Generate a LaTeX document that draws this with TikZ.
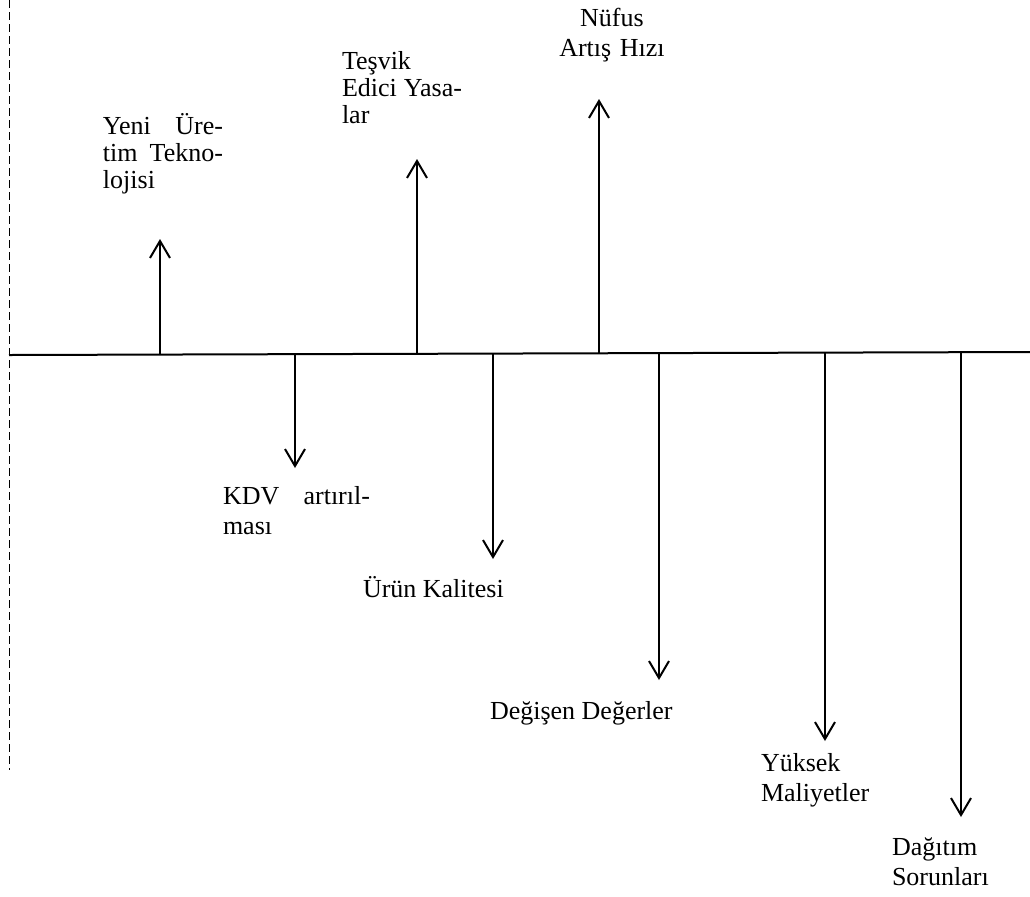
\documentclass[tikz,border=0pt]{standalone}
\usepackage{fontspec}
\setmainfont{Liberation Serif}
\usetikzlibrary{arrows.meta}
\tikzset{
every picture/.style={line width=1pt},
cause/.style={-{Straight Barb[length=8.5pt,width=10pt,line width=1pt]}},
factor/.style={inner sep=0pt, font=\fontsize{13}{15}\selectfont, align=left},
justified/.style={factor, font=\fontsize{13}{13.5}\selectfont},
}

\begin{document}
\begin{tikzpicture}[x=0.5pt,y=-0.5pt]
  \useasboundingbox (0,0) rectangle (1030,896);
  \draw[line width=0.5pt, dash pattern=on 4pt off 2pt] (9,0) -- (9,770);
  \coordinate (left) at (9,355);
  \coordinate (right) at (1030,352);
  \draw (left) -- (right);
  % positive factors (up) and negative factors (down)
  \foreach \n/\x/\y/\t in {yeni/160/355/239, tesvik/417/354/159, nufus/599/353/99,
      kdv/295/354/468, urun/493/354/559, degisen/659/353/680, yuksek/825/353/741,
      dagitim/961/352/817} {
    \coordinate (base-\n) at (\x,\y);
    \coordinate (tip-\n) at (\x,\t);
    \draw[cause] (base-\n) -- (tip-\n);
  }
  \node[justified, anchor=base west, text width=60pt] (yeni) at (102,134)
    {Yeni\hfill Üre-\\tim\hfill Tekno-\\lojisi};
  \node[justified, anchor=base west, text width=60pt] (tesvik) at (341,69)
    {Teşvik\\Edici\hfill Yasa-\\lar};
  \node[factor, anchor=base, text width=60pt, align=center] (nufus) at (612,26)
    {Nüfus\\Artış Hızı};
  \node[factor, anchor=base west, text width=73.5pt] (kdv) at (222,504)
    {KDV\hfill artırıl-\\ması};
  \node[factor, anchor=base west] (urun) at (362,597) {Ürün Kalitesi};
  \node[factor, anchor=base west] (degisen) at (489,719) {Değişen Değerler};
  \node[factor, anchor=base west, text width=60pt] (yuksek) at (760,771)
    {Yüksek\\Maliyetler};
  \node[factor, anchor=base west, text width=60pt] (dagitim) at (891,855)
    {Dağıtım\\Sorunları};
\end{tikzpicture}
\end{document}
